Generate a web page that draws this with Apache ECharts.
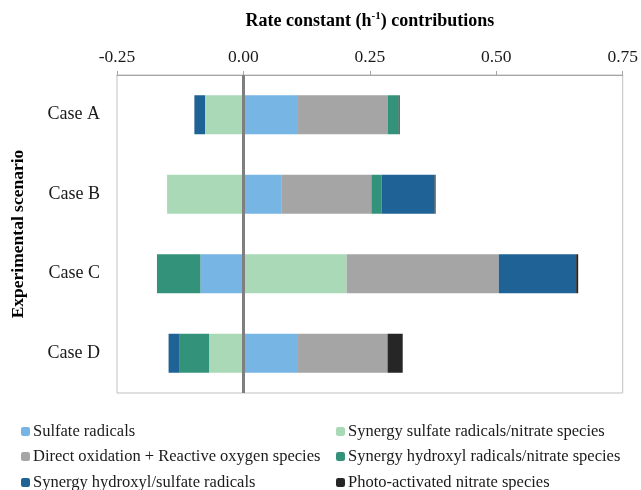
<!DOCTYPE html>
<html>
<head>
<meta charset="utf-8">
<script src="https://cdn.jsdelivr.net/npm/echarts@6/dist/echarts.min.js"></script>
<style>
  html, body { margin: 0; padding: 0; background: #fff; }
  #chart { width: 641px; height: 490px; }
</style>
</head>
<body>
<div id="chart"></div>
<script>
const cases = ["Case A", "Case B", "Case C", "Case D"];
const xTicks = [-0.25, 0.75, 0.25];

const sulfate = [0.108, 0.076, -0.085, 0.108];
const synSulfNit = [-0.076, -0.151, 0.204, -0.068];
const directRos = [0.177, 0.177, 0.301, 0.177];
const synHydNit = [0.022, 0.020, -0.086, -0.058];
const synHydSulf = [-0.021, 0.105, 0.153, -0.022];
const photoNit = [0.002, 0.002, 0.004, 0.030];

const names = [
  "Sulfate radicals",
  "Synergy sulfate radicals/nitrate species",
  "Direct oxidation + Reactive oxygen species",
  "Synergy hydroxyl radicals/nitrate species",
  "Synergy hydroxyl/sulfate radicals",
  "Photo-activated nitrate species",
];
const colors = ["#77B5E5", "#A9D9B6", "#A5A5A5", "#33937A", "#1F6396", "#262626"];
const values = [sulfate, synSulfNit, directRos, synHydNit, synHydSulf, photoNit];

const font = "Liberation Serif";

const chart = echarts.init(document.getElementById("chart"));

const series = values.map((v, i) => {
  const s = {
    name: names[i],
    type: "bar",
    stack: "total",
    barWidth: 39,
    itemStyle: { color: colors[i] },
    data: v,
  };
  if (i === values.length - 1) {
    s.markLine = {
      silent: true,
      symbol: ["none", "none"],
      label: { show: false },
      lineStyle: { color: "#7F7F7F", width: 3, type: "solid" },
      data: [{ xAxis: 0 }],
    };
  }
  return s;
});

// one legend per entry, laid out in two columns of three rows
const legendCols = [21, 336];
const legendRows = [423, 448, 474];
const legends = names.map((n, i) => ({
  left: legendCols[i % 2],
  top: legendRows[Math.floor(i / 2)],
  padding: 0,
  itemWidth: 9,
  itemHeight: 9,
  data: [n],
  textStyle: { fontFamily: font, fontSize: 16.5, color: "#1a1a1a", padding: [0, 0, 0, -2] },
}));

chart.setOption({
  animation: false,
  textStyle: { fontFamily: font },
  grid: { left: 117, right: 14, top: 75, height: 318, show: true, borderColor: "#C0C0C0", borderWidth: 1 },
  legend: legends,
  xAxis: {
    type: "value",
    position: "top",
    min: xTicks[0],
    max: xTicks[1],
    interval: xTicks[2],
    name: "Rate constant (h{sup|-1}) contributions",
    nameLocation: "middle",
    nameGap: 44,
    nameTextStyle: {
      fontFamily: font, fontSize: 18, fontWeight: "bold", color: "#000",
      rich: { sup: { fontFamily: font, fontSize: 11, fontWeight: "bold", color: "#000", padding: [0, 0, 9, 0] } },
    },
    axisLine: { show: true, lineStyle: { color: "#A6A6A6", width: 1 } },
    axisTick: { show: true, length: 4, lineStyle: { color: "#A6A6A6" } },
    splitLine: { show: false },
    axisLabel: {
      fontFamily: font, fontSize: 17.5, color: "#1a1a1a", margin: 9,
      formatter: (v) => v.toFixed(2),
    },
  },
  yAxis: {
    type: "category",
    inverse: true,
    data: cases,
    name: "Experimental scenario",
    nameLocation: "middle",
    nameGap: 90,
    nameRotate: 90,
    nameTextStyle: { fontFamily: font, fontSize: 17.5, fontWeight: "bold", color: "#000" },
    axisLine: { show: false },
    axisTick: { show: false },
    axisLabel: { fontFamily: font, fontSize: 18, color: "#1a1a1a", margin: 17 },
  },
  series: series,
});
</script>
</body>
</html>
